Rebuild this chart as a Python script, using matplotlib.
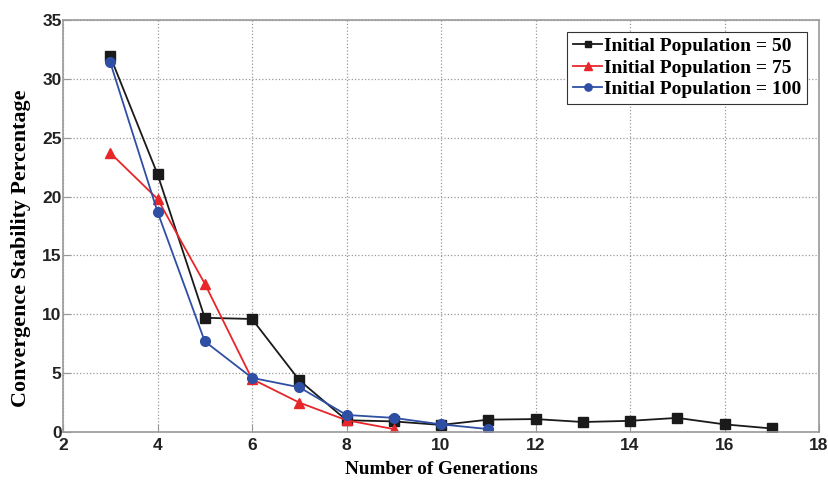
import matplotlib
matplotlib.use("Agg")
import matplotlib.pyplot as plt

gens_50 = [3, 4, 5, 6, 7, 8, 9, 10, 11, 12, 13, 14, 15, 16, 17]
pop_50 = [31.9, 21.9, 9.7, 9.6, 4.4, 1.0, 0.9, 0.6, 1.05, 1.1, 0.85, 0.95, 1.2, 0.65, 0.3]
gens_75 = [3, 4, 5, 6, 7, 8, 9]
pop_75 = [23.7, 19.8, 12.6, 4.5, 2.5, 1.0, 0.25]
gens_100 = [3, 4, 5, 6, 7, 8, 9, 10, 11]
pop_100 = [31.4, 18.7, 7.7, 4.6, 3.8, 1.45, 1.2, 0.65, 0.25]

plt.rcParams['font.family'] = ['Liberation Serif', 'DejaVu Serif']
plt.rcParams['font.weight'] = 'bold'

fig = plt.figure(figsize=(8.29, 4.82), dpi=100)
ax = fig.add_axes([0.076, 0.1037, 0.912, 0.855])

ax.plot(gens_50, pop_50, color='#1a1a1a', marker='s', markersize=6.5, linewidth=1.3,
        label='Initial Population = 50')
ax.plot(gens_75, pop_75, color='#e8262a', marker='^', markersize=7.5, linewidth=1.3,
        label='Initial Population = 75')
ax.plot(gens_100, pop_100, color='#2e4fa3', marker='o', markersize=7, linewidth=1.3,
        label='Initial Population = 100')

ax.set_xlim(2, 18)
ax.set_ylim(0, 35)
ax.set_xticks(range(2, 19, 2))
ax.set_yticks(range(0, 36, 5))
ax.grid(True, linestyle=':', color='#999999', linewidth=0.9)
ax.tick_params(direction='in', length=6, colors='#999999', labelcolor='#222222')
ax.tick_params(axis='x', pad=4)
ax.tick_params(axis='y', pad=1)
for lab in ax.get_xticklabels() + ax.get_yticklabels():
    lab.set_fontfamily('Liberation Sans')
    lab.set_fontsize(12.5)
    lab.set_fontweight('bold')
for s in ax.spines.values():
    s.set_color('#999999')
    s.set_linewidth(1.2)

ax.set_xlabel('Number of Generations', fontsize=13.8, fontweight='bold', labelpad=6)
ax.set_ylabel('Convergence Stability Percentage', fontsize=15.8, fontweight='bold')
ax.yaxis.set_label_coords(-0.042, 0.447)

leg = ax.legend(loc='upper right', fontsize=14, fancybox=False, framealpha=1,
                edgecolor='#333333', handlelength=1.5, borderpad=0.3,
                labelspacing=0.2, handletextpad=0.1, markerscale=0.75,
                borderaxespad=0.6)
leg.get_frame().set_linewidth(0.8)

fig.savefig('out.png', dpi=100)
